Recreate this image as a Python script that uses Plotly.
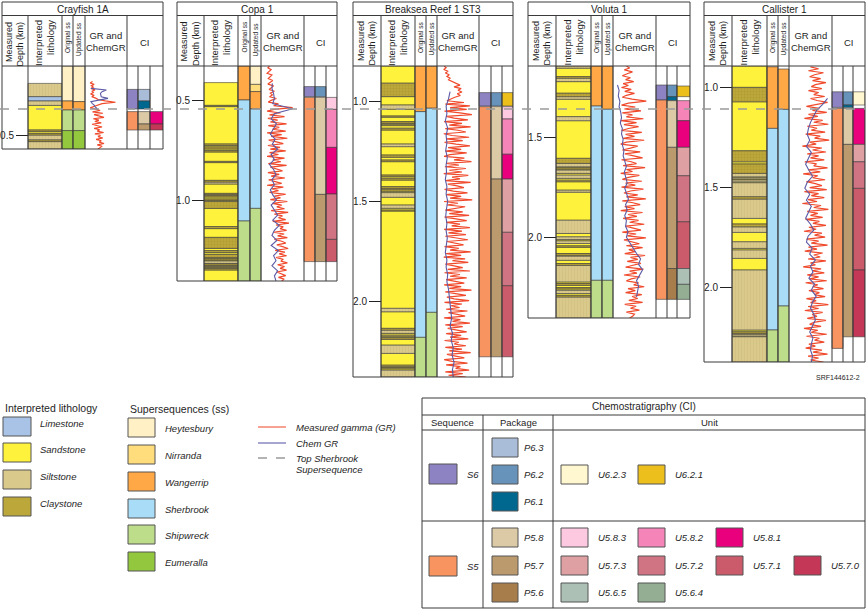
import numpy as np
import plotly.graph_objects as go

FIG_W, FIG_H = 866, 611

# ============================ DATA ============================
well_names = ["Crayfish 1A", "Copa 1", "Breaksea Reef 1 ST3", "Voluta 1", "Callister 1"]

lith_types = ["Limestone", "Sandstone", "Siltstone", "Claystone"]
lith_colors = ["#a9c3e6", "#fff23c", "#d9c98b", "#bca73a"]
ss_names = ["Heytesbury", "Nirranda", "Wangerrip", "Sherbrook", "Shipwreck", "Eumeralla"]
ss_colors = ["#fff0c6", "#ffdc7c", "#ffa845", "#a9dcf7", "#bedd8a", "#93c83e"]
seq_names = ["S6", "S5"]
seq_colors = ["#8d82c2", "#f7945f"]
pkg_names = ["P6.3", "P6.2", "P6.1", "P5.8", "P5.7", "P5.6"]
pkg_colors = ["#a9bdd9", "#6792ba", "#00688f", "#dccaa6", "#bb9a6d", "#a67d4b"]
unit_names = ["U6.2.3", "U6.2.1", "U5.8.3", "U5.8.2", "U5.8.1", "U5.7.3", "U5.7.2",
              "U5.7.1", "U5.7.0", "U5.6.5", "U5.6.4"]
unit_colors = ["#fff7cf", "#ecbf1c", "#fdc9e1", "#f585b8", "#e8007d", "#dea0a3", "#d07383",
               "#cb5b6b", "#c43757", "#adc0b6", "#93ae93"]

# ---- Crayfish 1A (depths in km; GR in % of track width) ----
cray_lith_extent = (0.242, 0.570)
cray_beds = [(0.242, 0.308, "Siltstone"), (0.308, 0.330, "Limestone"), (0.330, 0.352, "Siltstone"),
             (0.475, 0.483, "Claystone"), (0.492, 0.500, "Claystone"), (0.500, 0.525, "Siltstone"),
             (0.525, 0.533, "Claystone"), (0.533, 0.570, "Siltstone")]
cray_orig = [(0.155, 0.330, "Heytesbury"), (0.330, 0.375, "Wangerrip"), (0.375, 0.478, "Shipwreck"),
             (0.478, 0.570, "Eumeralla")]
cray_upd = [(0.155, 0.333, "Heytesbury"), (0.333, 0.375, "Wangerrip"), (0.375, 0.478, "Shipwreck"),
            (0.478, 0.570, "Eumeralla")]
cray_seq = [(0.272, 0.370, "S6"), (0.383, 0.475, "S5")]
cray_pkg = [(0.272, 0.330, "P6.3"), (0.330, 0.370, "P6.1"), (0.383, 0.445, "P5.8"), (0.445, 0.475, "P5.7")]
cray_unit = [(0.383, 0.445, "U5.8.1"), (0.445, 0.475, "U5.7.0")]
cray_gr_span = (0.233, 0.570)
cray_gr = [16, 10, 20, 13, 18, 12, 22, 15, 18, 11,
           20, 14, 24, 30, 48, 74, 40, 28, 18, 10,
           25, 35, 16, 42, 20, 30, 45, 18, 32, 22,
           38, 15, 26, 40, 20, 34, 28, 44, 22, 36,
           30, 42, 25, 38, 33, 45, 28, 40, 35, 30]
cray_cgr_span = (0.267, 0.375)
cray_cgr = [12, 51, 40, 36, 37, 38, 55, 30, 12, 15, 20, 22, 27, 25]

# ---- Copa 1 ----
copa_lith_extent = (0.413, 1.405)
copa_beds = [(0.527, 0.533, "Claystone"), (0.720, 0.728, "Claystone"), (0.735, 0.745, "Claystone"),
             (0.753, 0.760, "Claystone"), (0.807, 0.813, "Claystone"), (0.902, 0.910, "Claystone"),
             (0.910, 0.920, "Siltstone"), (0.967, 0.973, "Claystone"), (0.978, 0.985, "Claystone"),
             (0.995, 1.002, "Claystone"), (1.007, 1.042, "Claystone"), (1.133, 1.143, "Claystone"),
             (1.187, 1.242, "Claystone"), (1.253, 1.263, "Claystone"), (1.272, 1.288, "Claystone"),
             (1.293, 1.300, "Claystone"), (1.305, 1.317, "Siltstone"), (1.320, 1.328, "Claystone"),
             (1.332, 1.338, "Claystone"), (1.343, 1.350, "Claystone")]
copa_orig = [(0.330, 0.500, "Wangerrip"), (0.500, 1.105, "Sherbrook"), (1.105, 1.405, "Shipwreck")]
copa_upd = [(0.330, 0.422, "Heytesbury"), (0.422, 0.458, "Nirranda"), (0.458, 0.545, "Wangerrip"),
            (0.545, 1.042, "Sherbrook"), (1.042, 1.405, "Shipwreck")]
copa_seq = [(0.433, 0.483, "S6"), (0.487, 1.308, "S5")]
copa_pkg = [(0.433, 0.483, "P6.2"), (0.487, 0.972, "P5.8"), (0.972, 1.308, "P5.7")]
copa_unit = [(0.487, 0.547, "U5.8.3"), (0.547, 0.737, "U5.8.2"), (0.737, 0.970, "U5.8.1"),
             (0.970, 1.197, "U5.7.2"), (1.197, 1.308, "U5.7.1")]
copa_gr_span = (0.330, 1.405)
copa_gr = [18, 14, 22, 16, 12, 24, 18, 15, 26, 20,
           14, 28, 22, 17, 30, 20, 25, 18, 35, 22,
           15, 40, 28, 75, 30, 12, 45, 18, 55, 14,
           38, 20, 60, 15, 42, 25, 58, 12, 48, 22,
           62, 16, 35, 52, 14, 44, 20, 58, 18, 40,
           12, 55, 26, 46, 15, 60, 20, 38, 50, 14,
           42, 22, 56, 16, 34, 48, 12, 52, 24, 40,
           18, 58, 30, 45, 20, 62, 25, 48, 36, 55,
           22, 64, 30, 50, 40, 58, 26, 66, 34, 52,
           44, 60, 28, 54, 38, 62, 30, 48, 58, 36,
           50, 64, 32, 56, 42, 60, 34, 52, 46, 62,
           38, 55, 44, 60, 36, 50, 58, 40, 54, 48]
copa_cgr_span = (0.417, 1.405)
copa_cgr = [25, 24, 28, 30, 26, 75, 30, 22, 35, 28, 20, 32, 25, 38, 22, 30, 18, 28, 34, 24,
            30, 20, 26, 35, 22, 30, 38, 26, 42, 30, 24, 36, 22, 40, 28, 34, 24, 38, 30, 34]

# ---- Breaksea Reef 1 ST3 ----
brk_lith_extent = (0.822, 2.376)
brk_beds = [(0.908, 0.975, "Claystone"), (1.017, 1.038, "Siltstone"), (1.072, 1.078, "Claystone"),
            (1.100, 1.108, "Claystone"), (1.113, 1.120, "Claystone"), (1.133, 1.142, "Claystone"),
            (1.212, 1.225, "Siltstone"), (1.267, 1.278, "Claystone"), (1.292, 1.300, "Claystone"),
            (1.367, 1.375, "Claystone"), (1.383, 1.392, "Claystone"), (1.425, 1.435, "Claystone"),
            (1.438, 1.448, "Claystone"), (1.455, 1.478, "Siltstone"), (1.517, 1.533, "Siltstone"),
            (1.542, 1.547, "Claystone"), (2.033, 2.050, "Siltstone"), (2.133, 2.142, "Claystone"),
            (2.142, 2.158, "Siltstone"), (2.167, 2.175, "Claystone"), (2.180, 2.188, "Claystone"),
            (2.217, 2.258, "Siltstone"), (2.317, 2.325, "Claystone"), (2.328, 2.335, "Claystone"),
            (2.342, 2.376, "Siltstone")]
brk_orig = [(0.822, 1.050, "Wangerrip"), (1.050, 2.178, "Sherbrook"), (2.178, 2.376, "Shipwreck")]
brk_upd = [(0.822, 1.033, "Wangerrip"), (1.033, 2.053, "Sherbrook"), (2.053, 2.376, "Shipwreck")]
brk_seq = [(0.955, 1.022, "S6"), (1.025, 2.275, "S5")]
brk_pkg = [(0.955, 1.022, "P6.2"), (1.025, 1.387, "P5.8"), (1.387, 2.275, "P5.7")]
brk_unit = [(0.955, 1.022, "U6.2.1"), (1.025, 1.087, "U5.8.3"), (1.087, 1.263, "U5.8.2"),
            (1.263, 1.387, "U5.8.1"), (1.387, 1.653, "U5.7.3"), (1.653, 1.920, "U5.7.2"),
            (1.920, 2.275, "U5.7.1")]
brk_gr_span = (0.822, 2.376)
brk_gr = [15, 20, 14, 25, 18, 28, 22, 30, 26, 35,
          45, 55, 40, 58, 50, 60, 48, 56, 42, 30,
          22, 65, 18, 80, 30, 72, 16, 55, 85, 20,
          40, 75, 15, 60, 28, 82, 18, 50, 70, 14,
          35, 78, 20, 62, 16, 45, 80, 25, 58, 18,
          72, 30, 15, 66, 40, 84, 20, 52, 17, 70,
          28, 60, 14, 76, 35, 55, 18, 82, 24, 48,
          65, 16, 38, 74, 20, 58, 30, 86, 15, 50,
          22, 68, 40, 18, 62, 28, 78, 16, 45, 72,
          20, 55, 34, 80, 15, 60, 26, 70, 18, 48,
          75, 22, 40, 64, 16, 52, 30, 82, 20, 58,
          14, 68, 36, 76, 18, 46, 62, 24, 80, 16,
          55, 30, 72, 20, 44, 66, 15, 58, 28, 84,
          18, 50, 70, 22, 40, 78, 16, 60, 32, 54,
          20, 74, 26, 48, 68, 15, 56, 36, 80, 18,
          62, 24, 46, 72, 20, 58, 30, 76, 16, 52,
          40, 70, 18, 60, 28, 82, 22, 50, 66, 15,
          35, 74, 20, 56, 44, 78, 18, 62, 26, 70]
brk_cgr_span = (0.950, 2.376)
brk_cgr = [30, 26, 20, 22, 18, 24, 20, 22, 19, 23, 20, 21, 18, 22, 20, 24, 21, 19, 22, 20,
           23, 21, 18, 22, 20, 24, 22, 26, 28, 30, 32, 34, 30, 36, 33, 38, 35, 40, 36, 38]

# ---- Voluta 1 ----
vol_lith_extent = (1.142, 2.400)
vol_beds = [(1.142, 1.153, "Siltstone"), (1.195, 1.203, "Claystone"), (1.203, 1.220, "Siltstone"),
            (1.278, 1.295, "Claystone"), (1.295, 1.308, "Siltstone"), (1.395, 1.415, "Siltstone"),
            (1.603, 1.628, "Claystone"), (1.628, 1.645, "Siltstone"), (1.650, 1.657, "Claystone"),
            (1.662, 1.678, "Siltstone"), (1.687, 1.703, "Siltstone"), (1.712, 1.720, "Claystone"),
            (1.762, 1.772, "Siltstone"), (1.912, 1.978, "Siltstone"), (1.995, 2.008, "Siltstone"),
            (2.015, 2.028, "Siltstone"), (2.040, 2.047, "Claystone"), (2.078, 2.087, "Claystone"),
            (2.092, 2.112, "Siltstone"), (2.128, 2.137, "Claystone"), (2.137, 2.220, "Siltstone"),
            (2.228, 2.237, "Claystone"), (2.248, 2.255, "Claystone"), (2.262, 2.278, "Siltstone"),
            (2.287, 2.295, "Claystone"), (2.295, 2.400, "Siltstone")]
vol_orig = [(1.142, 1.342, "Wangerrip"), (1.342, 2.212, "Sherbrook"), (2.212, 2.400, "Shipwreck")]
vol_upd = [(1.142, 1.358, "Wangerrip"), (1.358, 2.212, "Sherbrook"), (2.212, 2.400, "Shipwreck")]
vol_seq = [(1.237, 1.312, "S6"), (1.312, 2.307, "S5")]
vol_pkg = [(1.237, 1.295, "P6.2"), (1.295, 1.315, "P6.1"), (1.315, 1.548, "P5.8"),
           (1.548, 2.153, "P5.7"), (2.153, 2.307, "P5.6")]
vol_unit = [(1.242, 1.295, "U6.2.1"), (1.315, 1.415, "U5.8.2"), (1.415, 1.548, "U5.8.1"),
            (1.548, 1.690, "U5.7.3"), (1.690, 1.920, "U5.7.2"), (1.920, 2.153, "U5.7.1"),
            (2.153, 2.232, "U5.6.5"), (2.232, 2.307, "U5.6.4")]
vol_gr_span = (1.142, 2.400)
vol_gr = [30, 38, 25, 45, 32, 20, 40, 28, 48, 22,
          35, 18, 42, 26, 50, 30, 20, 44, 79, 35,
          18, 52, 25, 66, 20, 45, 30, 72, 16, 55,
          24, 60, 35, 18, 68, 28, 50, 22, 74, 30,
          16, 58, 40, 20, 64, 26, 48, 70, 18, 42,
          55, 22, 76, 30, 45, 16, 62, 35, 20, 68,
          28, 52, 18, 72, 40, 24, 58, 30, 78, 20,
          46, 64, 26, 50, 16, 70, 34, 56, 22, 60,
          38, 74, 28, 48, 66, 20, 54, 32, 78, 24,
          44, 62, 30, 70, 36, 52, 26, 76, 40, 58,
          32, 66, 46, 28, 72, 38, 56, 24, 64, 42,
          30, 60, 48, 74, 34, 52, 28, 68, 44, 58,
          36, 70, 26, 54, 40, 62, 30, 50, 46, 38]
vol_cgr_span = (1.237, 2.295)
vol_cgr = [8, 12, 10, 14, 12, 16, 18, 15, 20, 18, 22, 20, 24, 22, 26, 30, 25, 28, 32, 26,
           30, 35, 28, 32, 26, 30, 28, 34, 30, 38, 45, 55, 65, 60, 70, 62, 55, 60, 58, 55]

# ---- Callister 1 ----
cal_lith_extent = (0.893, 2.373)
cal_beds = [(1.000, 1.072, "Claystone"), (1.317, 1.372, "Claystone"), (1.383, 1.430, "Claystone"),
            (1.430, 1.447, "Siltstone"), (1.452, 1.458, "Siltstone"), (1.463, 1.472, "Siltstone"),
            (1.477, 1.547, "Siltstone"), (1.547, 1.558, "Claystone"), (1.558, 1.655, "Siltstone"),
            (1.683, 1.697, "Claystone"), (1.697, 1.725, "Siltstone"), (1.772, 1.805, "Siltstone"),
            (1.813, 1.855, "Siltstone"), (1.913, 2.213, "Siltstone"), (2.222, 2.230, "Claystone"),
            (2.235, 2.243, "Siltstone"), (2.247, 2.373, "Siltstone")]
cal_orig = [(0.897, 1.205, "Wangerrip"), (1.205, 2.213, "Sherbrook"), (2.213, 2.373, "Shipwreck")]
cal_upd = [(0.908, 1.110, "Wangerrip"), (1.110, 2.093, "Sherbrook"), (2.093, 2.373, "Shipwreck")]
cal_seq = [(1.022, 1.100, "S6"), (1.105, 2.305, "S5")]
cal_pkg = [(1.022, 1.088, "P6.2"), (1.088, 1.100, "P6.1"), (1.105, 1.285, "P5.8"), (1.285, 2.247, "P5.7")]
cal_unit = [(1.022, 1.088, "U6.2.3"), (1.105, 1.285, "U5.8.1"), (1.285, 1.372, "U5.7.3"),
            (1.372, 1.505, "U5.7.2"), (1.505, 1.913, "U5.7.1"), (1.913, 2.247, "U5.7.0")]
cal_gr_span = (0.897, 2.373)
cal_gr = [50, 70, 45, 82, 60, 48, 75, 55, 88, 62,
          52, 78, 45, 70, 58, 85, 50, 66, 92, 60,
          40, 72, 55, 90, 45, 68, 35, 80, 58, 94,
          42, 66, 52, 86, 38, 74, 60, 96, 48, 64,
          30, 78, 55, 88, 42, 70, 50, 84, 36, 65,
          58, 92, 45, 74, 32, 68, 55, 86, 40, 62,
          78, 48, 90, 35, 70, 52, 84, 44, 66, 30,
          76, 58, 94, 42, 68, 50, 80, 38, 72, 56,
          88, 46, 64, 34, 78, 60, 86, 40, 70, 52,
          92, 45, 66, 36, 80, 58, 74, 44, 88, 50,
          62, 32, 76, 55, 84, 42, 70, 48, 90, 38,
          68, 56, 82, 46, 72, 60, 86, 40, 64, 50,
          94, 44, 70, 36, 80, 54, 66, 42, 88, 58,
          48, 76, 34, 68, 52, 90, 40, 72, 60, 84,
          46, 62, 38, 78, 56, 92, 44, 70, 50, 82]
cal_cgr_span = (1.055, 2.373)
cal_cgr = [92, 80, 65, 57, 50, 45, 42, 48, 40, 52, 44, 38, 46, 55, 42, 36, 48, 40, 52, 45,
           38, 50, 58, 44, 40, 54, 48, 62, 50, 56, 46, 60, 52, 64, 55, 50, 58, 62, 54, 48,
           56, 52, 50, 55, 52]

# ============================ LAYOUT GEOMETRY (pixels) ============================
panel_cols = [
    [2, 28, 62, 73, 85, 127, 138, 150, 163],
    [177, 204, 238, 250, 261, 304, 315, 326, 337],
    [353, 381, 415, 426, 437, 479, 491, 502, 513],
    [528, 556, 591, 602, 613, 656, 667, 677, 690],
    [704, 732, 767, 778, 789, 832, 843, 853, 865],
]
panel_bottom = [149, 281, 377, 318, 362]
depth_window = [(0.155, 0.570), (0.330, 1.405), (0.822, 2.376), (1.142, 2.400), (0.893, 2.373)]
PANEL_TOP, TITLE_BOT, HEAD_BOT = 2, 15.5, 66
SHERBROOK_Y = 109

wells = [
    dict(ext=cray_lith_extent, beds=cray_beds, orig=cray_orig, upd=cray_upd, seq=cray_seq, pkg=cray_pkg,
         unit=cray_unit, gr=(cray_gr_span, cray_gr), cgr=(cray_cgr_span, cray_cgr)),
    dict(ext=copa_lith_extent, beds=copa_beds, orig=copa_orig, upd=copa_upd, seq=copa_seq, pkg=copa_pkg,
         unit=copa_unit, gr=(copa_gr_span, copa_gr), cgr=(copa_cgr_span, copa_cgr)),
    dict(ext=brk_lith_extent, beds=brk_beds, orig=brk_orig, upd=brk_upd, seq=brk_seq, pkg=brk_pkg,
         unit=brk_unit, gr=(brk_gr_span, brk_gr), cgr=(brk_cgr_span, brk_cgr)),
    dict(ext=vol_lith_extent, beds=vol_beds, orig=vol_orig, upd=vol_upd, seq=vol_seq, pkg=vol_pkg,
         unit=vol_unit, gr=(vol_gr_span, vol_gr), cgr=(vol_cgr_span, vol_cgr)),
    dict(ext=cal_lith_extent, beds=cal_beds, orig=cal_orig, upd=cal_upd, seq=cal_seq, pkg=cal_pkg,
         unit=cal_unit, gr=(cal_gr_span, cal_gr), cgr=(cal_cgr_span, cal_cgr)),
]

FONT = "Liberation Sans, Arial, Helvetica, sans-serif"
LINE_C = "#3a3a3a"
LITH_PATTERN = {"Siltstone": dict(shape="|", fgcolor="#c9b877", size=3, solidity=0.25),
                "Claystone": dict(shape=".", fgcolor="#a3902c", size=3, solidity=0.3)}


def px(x):
    return x / FIG_W


def py(y):
    return 1 - y / FIG_H


def fill_sandstone(extent, beds):
    out = []
    cur = extent[0]
    for t, b, kind in sorted(beds):
        if t > cur + 1e-6:
            out.append((cur, t, "Sandstone"))
        out.append((t, b, kind))
        cur = max(cur, b)
    if cur < extent[1] - 1e-6:
        out.append((cur, extent[1], "Sandstone"))
    return out


fig = go.Figure()
shapes = []
annos = []


def add_blocks(intervals, names, colors, left, right, xref, yref, patterns=None):
    cmap = dict(zip(names, colors))
    for nm in names:
        sel = [(t, b) for t, b, k in intervals if k == nm]
        if not sel:
            continue
        mk = dict(color=cmap[nm], line=dict(color=LINE_C, width=0.6), opacity=1)
        if patterns and nm in patterns:
            mk["pattern"] = patterns[nm]
        fig.add_trace(go.Bar(
            x=[(left + right) / 2] * len(sel), y=[b - t for t, b in sel], base=[t for t, b in sel],
            width=[right - left] * len(sel), xaxis=xref, yaxis=yref, marker=mk,
            hoverinfo="skip", showlegend=False))


def text(x, y, s, size=10, xanchor="center", yanchor="middle", angle=0, color="#1e1e1e", align="center"):
    annos.append(dict(x=px(x), y=py(y), xref="paper", yref="paper", text=s, showarrow=False,
                      xanchor=xanchor, yanchor=yanchor, textangle=angle, align=align,
                      font=dict(family=FONT, size=size, color=color)))


def hline(x0, x1, y, color=LINE_C, width=1, dash=None):
    ln = dict(color=color, width=width)
    if dash:
        ln["dash"] = dash
    shapes.append(dict(type="line", xref="paper", yref="paper", x0=px(x0), x1=px(x1),
                       y0=py(y), y1=py(y), line=ln))


def vline(x, y0, y1, color=LINE_C, width=1):
    shapes.append(dict(type="line", xref="paper", yref="paper", x0=px(x), x1=px(x),
                       y0=py(y0), y1=py(y1), line=dict(color=color, width=width)))


def rect(x0, y0, x1, y1, fill, line=LINE_C, width=1):
    shapes.append(dict(type="rect", xref="paper", yref="paper", x0=px(x0), x1=px(x1),
                       y0=py(y0), y1=py(y1), fillcolor=fill, line=dict(color=line, width=width)))


layout_axes = {}
for i, w in enumerate(wells):
    cols = panel_cols[i]
    bot = panel_bottom[i]
    top_d, base_d = depth_window[i]
    n = i + 1
    xk, yk, gk = ("x" if n == 1 else f"x{n}"), ("y" if n == 1 else f"y{n}"), f"x{n + 5}"
    layout_axes["xaxis" if n == 1 else f"xaxis{n}"] = dict(
        domain=[px(cols[0]), px(cols[-1])], range=[cols[0], cols[-1]], anchor=yk, visible=False,
        fixedrange=True)
    layout_axes[f"xaxis{n + 5}"] = dict(
        domain=[px(cols[4]), px(cols[5])], range=[-3, 103], anchor=yk, visible=False, fixedrange=True)
    layout_axes["yaxis" if n == 1 else f"yaxis{n}"] = dict(
        domain=[py(bot), py(HEAD_BOT)], range=[base_d, top_d], anchor="free", position=px(cols[1]),
        side="left", tick0=0, dtick=0.5, tickformat=".1f", ticks="outside", ticklen=12, tickwidth=1,
        tickcolor="#222", showline=False, showgrid=False, zeroline=False, fixedrange=True,
        tickfont=dict(family=FONT, size=10, color="#222"))

    add_blocks(fill_sandstone(w["ext"], w["beds"]), lith_types, lith_colors, cols[1], cols[2], xk, yk,
               LITH_PATTERN)
    add_blocks(w["orig"], ss_names, ss_colors, cols[2], cols[3], xk, yk)
    add_blocks(w["upd"], ss_names, ss_colors, cols[3], cols[4], xk, yk)
    add_blocks(w["seq"], seq_names, seq_colors, cols[5], cols[6], xk, yk)
    add_blocks(w["pkg"], pkg_names, pkg_colors, cols[6], cols[7], xk, yk)
    add_blocks(w["unit"], unit_names, unit_colors, cols[7], cols[8], xk, yk)

    (gt, gb), gv = w["gr"]
    fig.add_trace(go.Scatter(x=gv, y=np.linspace(gt, gb, len(gv)), mode="lines", xaxis=gk, yaxis=yk,
                             line=dict(color="#f04a2c", width=1.2), hoverinfo="skip", showlegend=False))
    (ct, cb), cv = w["cgr"]
    fig.add_trace(go.Scatter(x=cv, y=np.linspace(ct, cb, len(cv)), mode="lines", xaxis=gk, yaxis=yk,
                             line=dict(color="#5b5aa6", width=1.1), hoverinfo="skip", showlegend=False))

    # frame
    shapes.append(dict(type="rect", xref="paper", yref="paper", x0=px(cols[0]), x1=px(cols[-1]),
                       y0=py(PANEL_TOP), y1=py(bot), line=dict(color=LINE_C, width=1)))
    hline(cols[0], cols[-1], TITLE_BOT)
    hline(cols[0], cols[-1], HEAD_BOT)
    for c in cols[1:6]:
        vline(c, TITLE_BOT, bot)
    for c in cols[6:8]:
        vline(c, HEAD_BOT, bot)

    # header text
    text((cols[0] + cols[-1]) / 2, 9, well_names[i], size=10)
    dc = (cols[0] + cols[1]) / 2
    text(dc, 19, "Measured<br>Depth (km)", size=9, yanchor="top", angle=-90, align="right")
    lc = (cols[1] + cols[2]) / 2
    text(lc, 18, "Interpreted<br>lithology", size=9.5, yanchor="top", angle=-90, align="right")
    text((cols[2] + cols[3]) / 2, 20, "Original ss", size=6.5, yanchor="top", angle=-90)
    text((cols[3] + cols[4]) / 2, 20, "Updated ss", size=6.5, yanchor="top", angle=-90)
    gc = (cols[4] + cols[5]) / 2
    text(gc, 41.5, "GR and<br>ChemGR", size=9.5)
    text((cols[5] + cols[8]) / 2, 42, "CI", size=9.5)

# Top Sherbrook dashed line across all wells
hline(0, FIG_W, SHERBROOK_Y, color="#9a9a9a", width=1.3, dash="dash")
text(862, 377, "SRF144612-2", size=7, xanchor="right")

# ============================ LEGENDS ============================
text(3, 408, "Interpreted lithology", size=10.5, xanchor="left")
lith_box_y = [417, 443, 470, 497]
for nm, col, y0 in zip(lith_types, lith_colors, lith_box_y):
    rect(3, y0, 31, y0 + 19, col, line="#555")
    text(38, y0 + 6, f"<i>{nm}</i>", size=9.5, xanchor="left")

text(128, 409, "Supersequences (ss)", size=10.5, xanchor="left")
ss_box_y = [418, 445, 472, 499, 525, 552]
for nm, col, y0 in zip(ss_names, ss_colors, ss_box_y):
    rect(128, y0, 155, y0 + 19, col, line="#555")
    text(163, y0 + 10, f"<i>{nm}</i>", size=9.5, xanchor="left")

hline(258, 286, 427, color="#ee4426", width=1)
hline(258, 286, 443, color="#8a88c0", width=1.5)
hline(258, 286, 458, color="#9a9a9a", width=1.3, dash="dash")
text(294, 427, "<i>Measured gamma (GR)</i>", size=9.5, xanchor="left")
text(294, 443, "<i>Chem GR</i>", size=9.5, xanchor="left")
text(294, 458, "<i>Top Sherbrook</i>", size=9.5, xanchor="left")
text(294, 469, "<i>Supersequence</i>", size=9.5, xanchor="left")

# Chemostratigraphy table
TL, TR, TT, TB = 422, 865, 398, 608
shapes.append(dict(type="rect", xref="paper", yref="paper", x0=px(TL), x1=px(TR), y0=py(TT), y1=py(TB),
                   line=dict(color=LINE_C, width=1)))
hline(TL, TR, 415)
hline(TL, TR, 430)
hline(TL, TR, 521)
vline(483, 415, TB)
vline(553, 415, TB)
text((TL + TR) / 2, 406.5, "Chemostratigraphy (CI)", size=10)
text((TL + 483) / 2, 422.5, "Sequence", size=9.5)
text((483 + 553) / 2, 422.5, "Package", size=9.5)
text((553 + TR) / 2, 422.5, "Unit", size=9.5)

seq_box_y = [464, 556]
for nm, col, y0 in zip(seq_names, seq_colors, seq_box_y):
    rect(429, y0, 457, y0 + 20, col, line="#555")
    text(465, y0 + 10, f"<i>{nm}</i>", size=9.5, xanchor="left")

pkg_box_y = [438, 465, 492, 528, 556, 583]
for nm, col, y0 in zip(pkg_names, pkg_colors, pkg_box_y):
    rect(492, y0, 518, y0 + 19, col, line="#555")
    text(546, y0 + 9.5, f"<i>{nm}</i>", size=9.5, xanchor="right")

unit_box_pos = [(561, 465), (638, 465), (561, 528), (638, 528), (716, 528), (561, 556), (638, 556),
                (716, 556), (794, 556), (561, 583), (638, 583)]
for nm, col, (x0, y0) in zip(unit_names, unit_colors, unit_box_pos):
    rect(x0, y0, x0 + 27, y0 + 19, col, line="#555")
    text(x0 + 35, y0 + 9.5, f"<i>{nm}</i>", size=9.5, xanchor="left")

fig.update_layout(
    width=FIG_W, height=FIG_H, margin=dict(l=0, r=0, t=0, b=0, autoexpand=False),
    paper_bgcolor="white", plot_bgcolor="rgba(0,0,0,0)", barmode="overlay",
    shapes=shapes, annotations=annos, showlegend=False, font=dict(family=FONT),
    **layout_axes)

fig.write_html("out.html", config={"displayModeBar": False},
               post_script="document.body.style.margin='0px';document.body.style.overflow='hidden';")
